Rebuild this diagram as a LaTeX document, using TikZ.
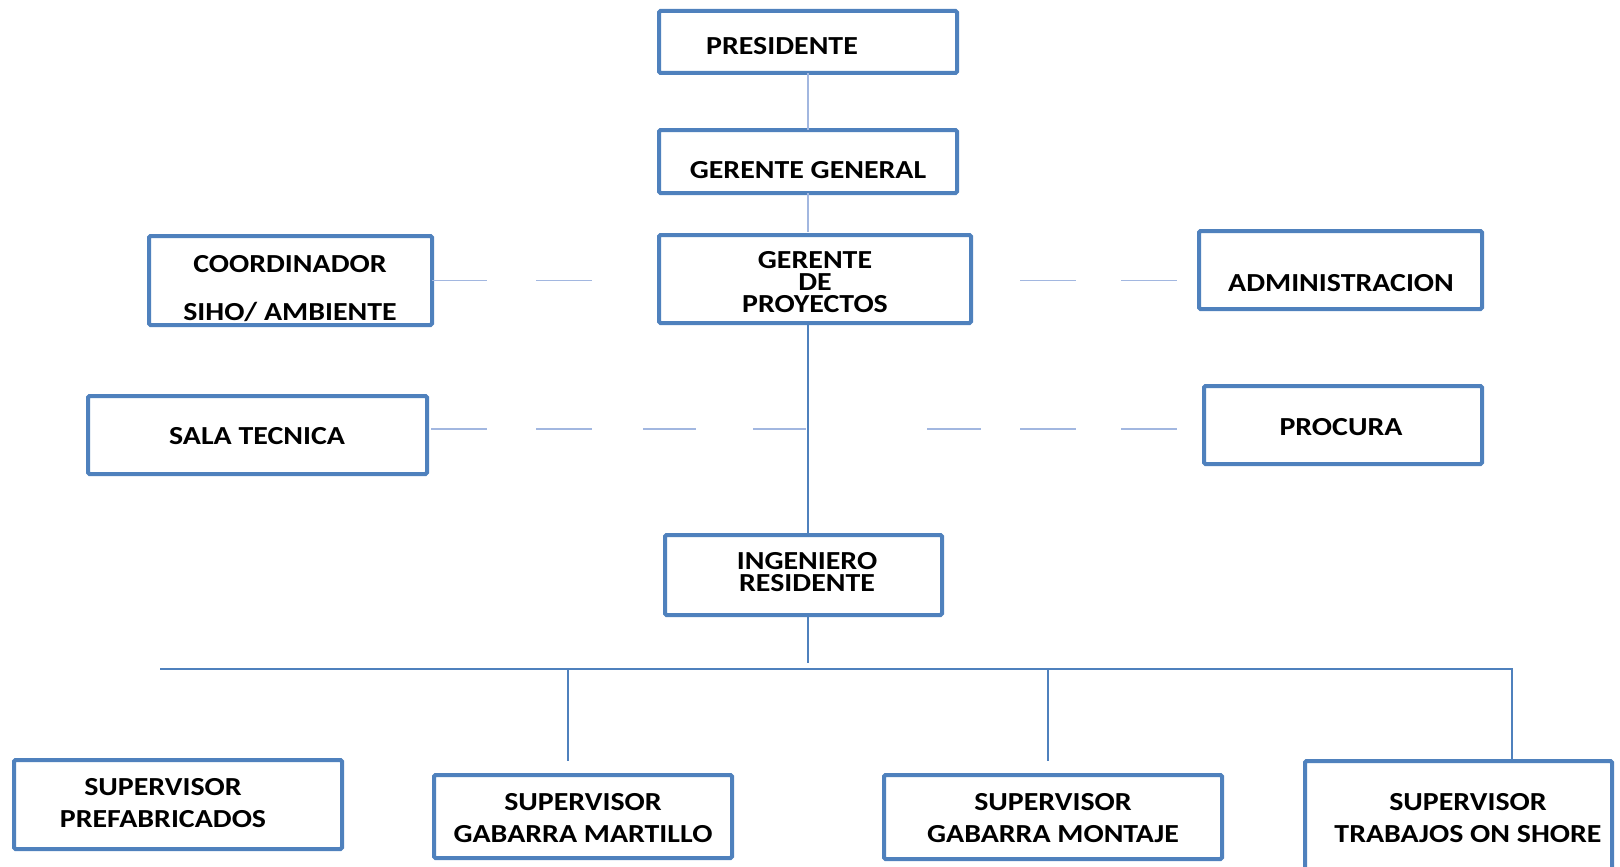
\documentclass[tikz,border=0pt]{standalone}
\usepackage{fontspec}
\setmainfont{Carlito}[FakeStretch=1.15]
\definecolor{boxblue}{HTML}{4F81BD}
\definecolor{lightline}{HTML}{A2B7E0}
\begin{document}
\begin{tikzpicture}[x=1pt,y=-1pt,
  box/.style={draw=boxblue, line width=4pt, rounded corners=1.5pt, inner sep=0pt, outer sep=0pt, fill=white},
  lbl/.style={anchor=base, align=center, inner sep=0pt, font=\fontsize{26}{22}\selectfont\bfseries},
  sup/.style={lbl, font=\fontsize{26}{32}\selectfont\bfseries},
  lightconn/.style={draw=lightline, line width=1.5pt},
  conn/.style={draw=boxblue, line width=1.8pt}
]
\useasboundingbox (0,0) rectangle (1620,867);
% boxes
\node[box, minimum width=298pt, minimum height=62pt] (pres) at (808,42) {};
\node[box, minimum width=298pt, minimum height=63pt] (gg) at (808,161.5) {};
\node[box, minimum width=312pt, minimum height=88pt] (gdp) at (815,279) {};
\node[box, minimum width=283pt, minimum height=89pt] (coord) at (290.5,280.5) {};
\node[box, minimum width=283pt, minimum height=78pt] (admin) at (1340.5,270) {};
\node[box, minimum width=339pt, minimum height=78pt] (sala) at (257.5,435) {};
\node[box, minimum width=278pt, minimum height=78pt] (proc) at (1343,425) {};
\node[box, minimum width=277pt, minimum height=80pt] (ing) at (803.5,575) {};
\node[box, minimum width=328pt, minimum height=89pt] (s1) at (178,804.5) {};
\node[box, minimum width=298pt, minimum height=83pt] (s2) at (583,816.5) {};
\node[box, minimum width=338pt, minimum height=84pt] (s3) at (1053,817) {};
\node[box, minimum width=307pt, minimum height=117pt] (s4) at (1458.5,819.5) {};
% texts (multi-line nodes: base = last line)
\node[lbl] (tpres) at (782,55) {PRESIDENTE};
\node[lbl] (tgg) at (808,178) {GERENTE GENERAL};
\node[lbl] (tgdp) at (815,312) {GERENTE\\DE\\PROYECTOS};
\node[lbl, font=\fontsize{26}{48}\selectfont\bfseries] (tcoord) at (290,320) {COORDINADOR\\SIHO/ AMBIENTE};
\node[lbl] (tadmin) at (1341,291) {ADMINISTRACION};
\node[lbl] (tsala) at (257,444) {SALA TECNICA};
\node[lbl] (tproc) at (1341,435) {PROCURA};
\node[lbl] (ting) at (807,591) {INGENIERO\\RESIDENTE};
\node[sup] (ts1) at (163,827) {SUPERVISOR\\PREFABRICADOS};
\node[sup] (ts2) at (583,842) {SUPERVISOR\\GABARRA MARTILLO};
\node[sup] (ts3) at (1053,842) {SUPERVISOR\\GABARRA MONTAJE};
\node[sup] (ts4) at (1468,842) {SUPERVISOR\\TRABAJOS ON SHORE};
% upper connectors
\draw[lightconn] (pres.south) -- (gg.north);
\draw[lightconn] (gg.south) -- ([yshift=3pt]gg.south |- gdp.north);
\draw[conn] (gdp.south -| pres.south) -- (ing.north -| pres.south);
% dashed staff lines
\draw[lightconn, dash pattern=on 55pt off 49pt on 56pt off 100pt] (coord.east) -- (coord.east -| gdp.west);
\draw[lightconn, dash pattern=on 0pt off 49pt on 56pt off 45pt on 56pt off 100pt] (gdp.east |- coord.east) -- (admin.west |- coord.east);
\coordinate (r2) at ([yshift=6pt]sala.east);
\draw[lightconn, dash pattern=on 0pt off 4pt on 56pt off 49pt on 56pt off 51pt on 53pt off 57pt on 53pt off 121pt on 54pt off 39pt on 56pt off 45pt on 56pt off 100pt] (r2) -- (r2 -| proc.west);
% lower tree
\coordinate (busL) at (160,669);
\coordinate (busR) at (1512,669);
\draw[conn] (ing.south -| pres.south) -- ++(0,48);
\draw[conn] (busL) -- (busR) -- (busR |- s4.north);
\draw[conn] (s1.north -| 163,669) -- (s1.north -| 163,0);
\draw[conn] (568,669) -- ([yshift=14pt]s2.north -| 568,0);
\draw[conn] (1048,669) -- ([yshift=14pt]s3.north -| 1048,0);
\end{tikzpicture}
\end{document}
